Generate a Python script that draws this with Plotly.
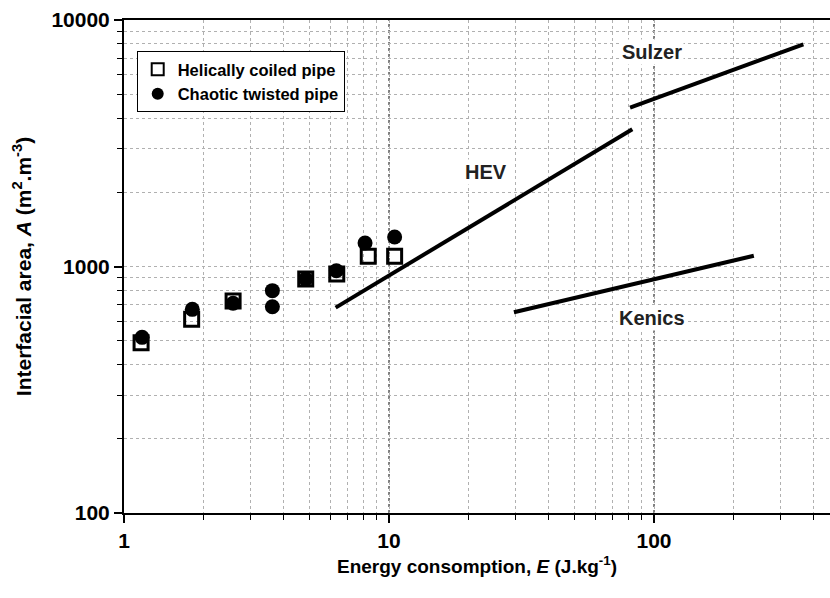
import math
import plotly.graph_objects as go

# Data
helical_E = [1.16, 1.80, 2.58, 4.85, 6.35, 8.35, 10.5]
helical_A = [491, 611, 725, 890, 932, 1100, 1100]

chaotic_E = [1.17, 1.81, 2.58, 3.63, 3.63, 4.85, 6.33, 8.12, 10.5]
chaotic_A = [516, 670, 709, 798, 687, 890, 961, 1245, 1318]

hev_E = [6.29, 82.8]
hev_A = [681, 3603]
sulzer_E = [81.2, 366]
sulzer_A = [4409, 7966]
kenics_E = [29.6, 238]
kenics_A = [652, 1106]

labels = ["Sulzer", "HEV", "Kenics"]
label_E = [98, 23.2, 98.5]
label_A = [7430, 2411, 617]

FONT = "Liberation Sans, Arial, sans-serif"

fig = go.Figure()

for xs, ys in [(hev_E, hev_A), (sulzer_E, sulzer_A), (kenics_E, kenics_A)]:
    fig.add_trace(go.Scatter(x=xs, y=ys, mode="lines", line=dict(color="black", width=4),
                             showlegend=False, hoverinfo="skip"))

fig.add_trace(go.Scatter(x=helical_E, y=helical_A, mode="markers", name="Helically coiled pipe",
                         marker=dict(symbol="square-open", size=14, color="black", line=dict(width=3, color="black"))))
fig.add_trace(go.Scatter(x=chaotic_E, y=chaotic_A, mode="markers", name="Chaotic twisted pipe",
                         marker=dict(symbol="circle", size=15, color="black")))

for t, xv, yv in zip(labels, label_E, label_A):
    fig.add_annotation(x=math.log10(xv), y=math.log10(yv), xref="x", yref="y",
                       text="<b>%s</b>" % t, showarrow=False,
                       font=dict(family=FONT, size=20, color="#222"), bgcolor="white")

# Major decade gridlines (darker dotted)
for xv in [10, 100]:
    fig.add_shape(type="line", x0=xv, x1=xv, y0=0, y1=1, xref="x", yref="paper",
                  line=dict(color="black", width=1, dash="dot"), layer="below")
fig.add_shape(type="line", x0=0, x1=1, y0=1000, y1=1000, xref="paper", yref="y",
              line=dict(color="black", width=1, dash="dot"), layer="below")

fig.update_layout(
    width=830, height=598,
    margin=dict(l=124, r=0, t=20, b=85),
    paper_bgcolor="white", plot_bgcolor="white",
    font=dict(family=FONT, color="black"),
    legend=dict(x=0.018, y=0.937, xanchor="left", yanchor="top",
                bordercolor="black", borderwidth=1, bgcolor="white",
                font=dict(family=FONT, size=16.5, color="black", weight="bold"),
                tracegroupgap=6, itemsizing="constant"),
)

fig.update_xaxes(
    type="log", range=[0, 2.664],
    showline=True, linecolor="black", linewidth=2, mirror=True,
    ticks="outside", ticklen=8, tickwidth=2, tickcolor="black",
    tickvals=[1, 10, 100], ticktext=["<b>1</b>", "<b>10</b>", "<b>100</b>"],
    tickfont=dict(family=FONT, size=21, color="black"),
    showgrid=False, zeroline=False,
    minor=dict(dtick="D1", ticks="outside", ticklen=5, tickwidth=1, tickcolor="black",
               showgrid=True, gridcolor="#b0b0b0", griddash="dot", gridwidth=1),
    title=dict(text="<b>Energy consomption, <i>E</i> (J.kg<sup>-1</sup>)</b>",
               font=dict(family=FONT, size=19, color="black"), standoff=8),
)
fig.update_yaxes(
    type="log", range=[2, 4],
    showline=True, linecolor="black", linewidth=2, mirror=False,
    ticks="outside", ticklen=8, tickwidth=2, tickcolor="black",
    tickvals=[100, 1000, 10000], ticktext=["<b>100</b>", "<b>1000</b>", "<b>10000</b>"],
    tickfont=dict(family=FONT, size=21, color="black"),
    showgrid=False, zeroline=False,
    minor=dict(dtick="D1", ticks="outside", ticklen=5, tickwidth=1, tickcolor="black",
               showgrid=True, gridcolor="#b0b0b0", griddash="dot", gridwidth=1),
    title=dict(text="<b>Interfacial area, <i>A</i> (m<sup>2</sup>.m<sup>-3</sup>)</b>",
               font=dict(family=FONT, size=21, color="black"), standoff=14),
)

fig.write_html("out.html")
